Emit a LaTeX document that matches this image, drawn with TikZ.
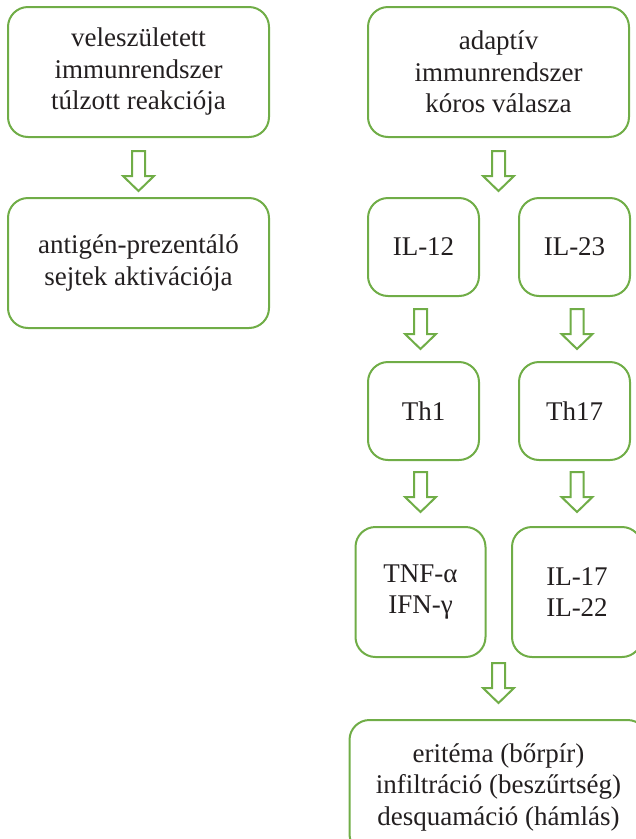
\documentclass[tikz,border=0pt]{standalone}
\usepackage{fontspec}
\setmainfont{LiberationSerif}[Extension=.ttf, UprightFont=*-Regular]
\usepackage{xcolor}
\usepackage{tikz}
\usetikzlibrary{positioning, calc}
\definecolor{psGreen}{HTML}{70AD47}
\definecolor{psInk}{HTML}{231F20}

% hollow block arrow pointing down, top edge at #1
\newcommand{\fatarrow}[1]{%
  \draw[fatarr] let \p1=(#1) in
    (\x1-6.5pt,\y1) -- (\x1+6.5pt,\y1) -- (\x1+6.5pt,\y1-25pt) -- (\x1+15.5pt,\y1-25pt)
    -- (\x1,\y1-40pt) -- (\x1-15.5pt,\y1-25pt) -- (\x1-6.5pt,\y1-25pt) -- cycle;}

\begin{document}
\begin{tikzpicture}[
  x=1pt, y=-1pt,
  font=\fontsize{27}{31.5}\selectfont, text=psInk,
  box/.style={draw=psGreen, line width=2pt, rounded corners=20pt, align=center,
              minimum width=261pt, minimum height=130pt, inner sep=2pt},
  small/.style={box, minimum width=111pt, minimum height=98pt},
  cyto/.style={box, minimum width=130pt, minimum height=130pt},
  wide/.style={box, minimum width=298pt, minimum height=134pt},
  fatarr/.style={draw=psGreen, line width=2pt, fill=white, line join=miter},
]
\useasboundingbox (0,0) rectangle (636,839);

% left column
\node[box] (inn) at (138.5,72) {veleszületett\\immunrendszer\\túlzott reakciója};
\node[box, below=59pt of inn] (apc) {antigén-prezentáló\\sejtek aktivációja};

% right column
\node[box, right=97pt of inn] (adapt) {adaptív\\immunrendszer\\kóros válasza};
\node[small, below right=59pt and 0pt of adapt.south west] (il12) {IL-12};
\node[small, right=38pt of il12] (il23) {IL-23};
\node[small, below=64pt of il12] (th1) {Th1};
\node[small, below=64pt of il23] (th17) {Th17};
\node[cyto, below=65pt of th1, xshift=-3pt] (tnf) {TNF-α\\IFN-γ};
\node[cyto, below=65pt of th17, xshift=2.5pt] (il17) {IL-17\\IL-22};
\coordinate (join) at (tnf.south -| adapt.south);
\node[wide, below=61pt of join] (sym) {eritéma (bőrpír)\\infiltráció (beszűrtség)\\desquamáció (hámlás)};

\fatarrow{$(inn.south)+(0,-13pt)$}
\fatarrow{$(adapt.south)+(0,-13pt)$}
\fatarrow{$(il12.south)+(-3pt,-12pt)$}
\fatarrow{$(il23.south)+(2.5pt,-12pt)$}
\fatarrow{$(th1.south)+(-3pt,-11pt)$}
\fatarrow{$(th17.south)+(2.5pt,-11pt)$}
\fatarrow{$(join)+(0,-5pt)$}
\end{tikzpicture}
\end{document}
